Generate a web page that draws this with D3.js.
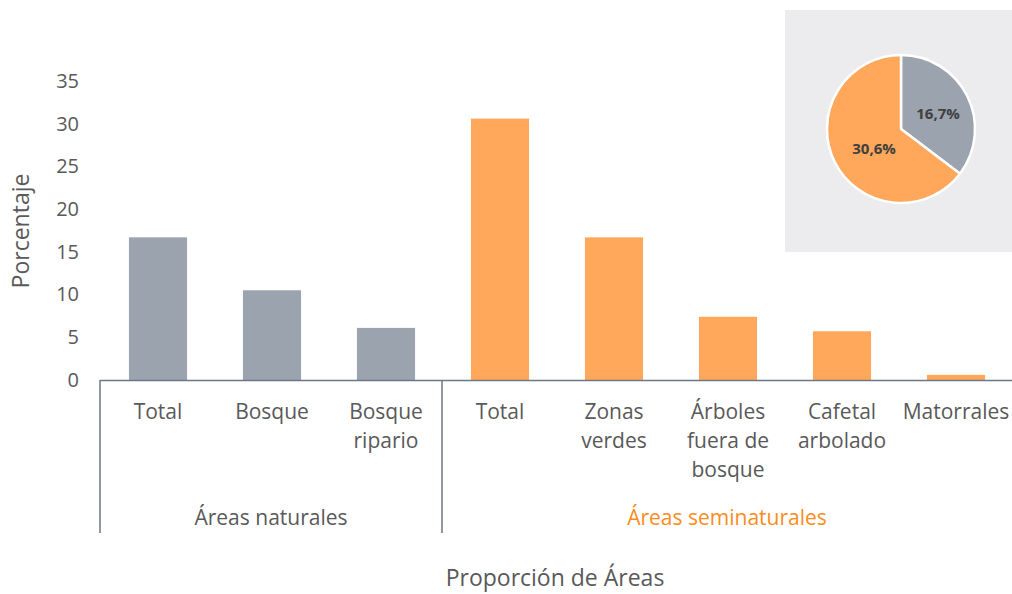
<!DOCTYPE html>
<html>
<head>
<meta charset="utf-8">
<script src="https://cdn.jsdelivr.net/npm/d3@7"></script>
<style>
  body { margin: 0; background: #fff; }
  text { font-family: "Open Sans", sans-serif; fill: #595959; }
</style>
</head>
<body>
<svg id="chart" width="1012" height="594"></svg>
<script>
// datos
var categorias = [
  ["Total"], ["Bosque"], ["Bosque", "ripario"],
  ["Total"], ["Zonas", "verdes"], ["Árboles", "fuera de", "bosque"], ["Cafetal", "arbolado"], ["Matorrales"]
];
var grupos = ["Áreas naturales", "Áreas seminaturales"];
var grupoDe = [0, 0, 0, 1, 1, 1, 1, 1];
var valores = [16.7, 10.5, 6.1, 30.6, 16.7, 7.4, 5.7, 0.6];
var ticksY = [0, 5, 10, 15, 20, 25, 30, 35];
var pieValores = [16.7, 30.6];
var pieEtiquetas = ["16,7%", "30,6%"];

var colores = ["#9ba3ae", "#ffa75a"];
var colorGrupo = ["#595959", "#fb8c1e"];
var lineaEje = "#6b7787";

var svg = d3.select("#chart");

var x = d3.scaleBand().domain(d3.range(categorias.length)).range([101, 1013]).paddingInner(0.49).paddingOuter(0.245);
var y = d3.scaleLinear().domain([0, 35]).range([380, 81]);

// barras
svg.append("g").selectAll("rect")
  .data(valores)
  .enter()
  .append("rect")
  .attr("x", function(d, i) { return x(i); })
  .attr("width", x.bandwidth())
  .attr("y", function(d) { return y(d); })
  .attr("height", function(d) { return y(0) - y(d); })
  .attr("fill", function(d, i) { return colores[grupoDe[i]]; });

// eje Y (sin linea)
var ejeY = svg.append("g")
  .attr("transform", "translate(100,0)")
  .call(d3.axisLeft(y).tickValues(ticksY).tickSize(0).tickPadding(21));
ejeY.select(".domain").remove();
ejeY.selectAll("text")
  .style("font-family", "'Open Sans', sans-serif")
  .style("font-size", "20px")
  .attr("fill", "#595959");

// linea base y separadores de grupo
svg.append("line")
  .attr("x1", 100).attr("x2", 1012)
  .attr("y1", y(0) + 0.5).attr("y2", y(0) + 0.5)
  .attr("stroke", lineaEje).attr("stroke-width", 1.5);

var limites = [0, 3];
svg.append("g").selectAll("line")
  .data(limites)
  .enter()
  .append("line")
  .attr("x1", function(d) { return x.step() * d + 100; })
  .attr("x2", function(d) { return x.step() * d + 100; })
  .attr("y1", y(0))
  .attr("y2", 533)
  .attr("stroke", lineaEje).attr("stroke-width", 1.5);

// etiquetas de categoria
svg.append("g").selectAll("text")
  .data(categorias)
  .enter()
  .append("text")
  .attr("text-anchor", "middle")
  .style("font-size", "21px")
  .attr("x", function(d, i) { return x(i) + x.bandwidth() / 2; })
  .attr("y", 419)
  .each(function(d, i) {
    var t = d3.select(this);
    var cx = x(i) + x.bandwidth() / 2;
    d.forEach(function(linea, k) {
      t.append("tspan").attr("x", cx).attr("dy", k == 0 ? 0 : 29).text(linea);
    });
  });

// etiquetas de grupo
var centrosGrupo = [(100 + (x.step() * 3 + 100)) / 2, (x.step() * 3 + 100 + 1012) / 2];
svg.append("g").selectAll("text")
  .data(grupos)
  .enter()
  .append("text")
  .attr("text-anchor", "middle")
  .style("font-size", "21px")
  .attr("x", function(d, i) { return centrosGrupo[i]; })
  .attr("y", 525)
  .style("fill", function(d, i) { return colorGrupo[i]; })
  .text(function(d) { return d; });

// titulos
svg.append("text")
  .attr("transform", "translate(29,231) rotate(-90)")
  .attr("text-anchor", "middle")
  .style("font-size", "23px")
  .text("Porcentaje");

svg.append("text")
  .attr("x", 555).attr("y", 586)
  .attr("text-anchor", "middle")
  .style("font-size", "23px")
  .text("Proporción de Áreas");

// grafico circular
svg.append("rect")
  .attr("x", 785).attr("y", 10)
  .attr("width", 227).attr("height", 242)
  .attr("fill", "#ececee");

var pie = d3.pie().sort(null)(pieValores);
var arco = d3.arc().innerRadius(0).outerRadius(74);
var gPie = svg.append("g").attr("transform", "translate(901,129)");

gPie.selectAll("path")
  .data(pie)
  .enter()
  .append("path")
  .attr("d", arco)
  .attr("fill", function(d, i) { return colores[i]; })
  .attr("stroke", "#fff")
  .attr("stroke-width", 2.5)
  .attr("stroke-linejoin", "round");

var posEtiq = [[37, -15], [-27, 20]];
gPie.selectAll("text")
  .data(pieEtiquetas)
  .enter()
  .append("text")
  .attr("x", function(d, i) { return posEtiq[i][0]; })
  .attr("y", function(d, i) { return posEtiq[i][1]; })
  .attr("dy", "0.35em")
  .attr("text-anchor", "middle")
  .style("font-size", "15px")
  .style("font-weight", "bold")
  .style("fill", "#404040")
  .text(function(d) { return d; });
</script>
</body>
</html>
